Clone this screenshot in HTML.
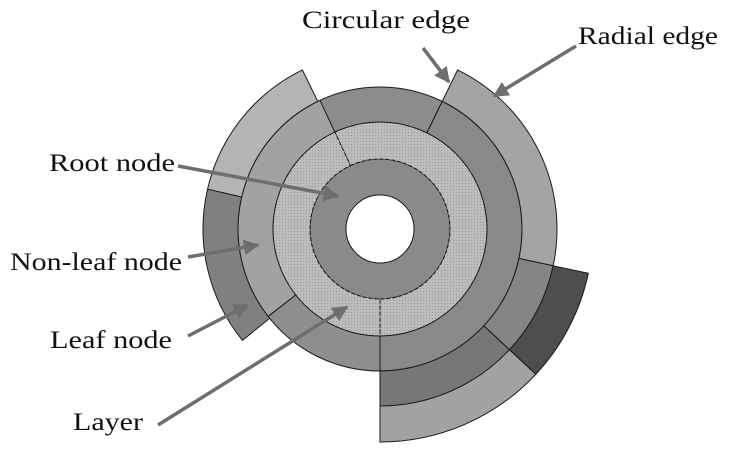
<!DOCTYPE html>
<html><head><meta charset="utf-8"><style>
html,body{margin:0;padding:0;background:#fff;width:729px;height:450px;overflow:hidden}
svg text{font-family:"Liberation Serif",serif;font-size:25px;fill:#111}
</style></head><body>
<svg id="chart" width="729" height="450" viewBox="0 0 729 450">
<defs>
<pattern id="dots" width="3" height="3" patternUnits="userSpaceOnUse">
<rect width="3" height="3" fill="#bcbcbc"/><rect width="1" height="1" fill="#9a9a9a"/>
</pattern>
<marker id="ah" viewBox="0 0 10 10" refX="9" refY="5" markerWidth="4.5" markerHeight="4.5" orient="auto" markerUnits="strokeWidth">
<path d="M0,0 L10,5 L0,10 z" fill="#6e6e6e"/></marker>
</defs>
<g id="rings"></g>
<circle cx="380" cy="229" r="34" fill="#fff" stroke="#222" stroke-width="1"/>
<g id="arrows"></g>
<text x="302" y="28" textLength="168" lengthAdjust="spacingAndGlyphs">Circular edge</text>
<text x="578" y="44" textLength="140" lengthAdjust="spacingAndGlyphs">Radial edge</text>
<text x="49" y="171" textLength="126" lengthAdjust="spacingAndGlyphs">Root node</text>
<text x="10" y="270" textLength="172" lengthAdjust="spacingAndGlyphs">Non-leaf node</text>
<text x="50" y="348" textLength="122" lengthAdjust="spacingAndGlyphs">Leaf node</text>
<text x="73" y="430" textLength="70" lengthAdjust="spacingAndGlyphs">Layer</text>
</svg>
<script>
const cx=380, cy=229;
const segNames=["root","layer2-a","layer2-b","l3-top","l3-right","l3-bottom-left","l3-left","l4-top-left","l4-left","l4-top-right","l4-right","l4-bottom","l5-right","l5-bottom"];
const segR0=[34,70,70,107,107,107,107,142,142,142,142,142,177,177];
const segR1=[70,107,107,142,142,142,142,177,177,177,177,177,213,213];
const segA0=[0,-25,180,-26,26,180,232,283,231,26,102,133,102,133];
const segA1=[360,180,335,26,180,232,335,334,283,102,133,180,133,180];
const segFill=["#8a8a8a","url(#dots)","url(#dots)","#8c8c8c","#898989","#8e8e8e","#a2a2a2","#b4b4b4","#808080","#a4a4a4","#858585","#777777","#4e4e4e","#a2a2a2"];
function pt(r,a){const t=a*Math.PI/180;return [cx+r*Math.sin(t),cy-r*Math.cos(t)];}
function arc(r0,r1,a0,a1){
  if(a1-a0>=360){return `M${cx-r1},${cy}A${r1},${r1} 0 1 1 ${cx+r1},${cy}A${r1},${r1} 0 1 1 ${cx-r1},${cy}Z M${cx-r0},${cy}A${r0},${r0} 0 1 0 ${cx+r0},${cy}A${r0},${r0} 0 1 0 ${cx-r0},${cy}Z`;}
  const l=(a1-a0)>180?1:0;
  const [x1,y1]=pt(r1,a0),[x2,y2]=pt(r1,a1),[x3,y3]=pt(r0,a1),[x4,y4]=pt(r0,a0);
  return `M${x1},${y1}A${r1},${r1} 0 ${l} 1 ${x2},${y2}L${x3},${y3}A${r0},${r0} 0 ${l} 0 ${x4},${y4}Z`;
}
const g=document.getElementById('rings');
for(let i=0;i<segNames.length;i++){
  const p=document.createElementNS('http://www.w3.org/2000/svg','path');
  p.setAttribute('d',arc(segR0[i],segR1[i],segA0[i],segA1[i]));
  p.setAttribute('fill',segFill[i]);
  p.setAttribute('fill-rule','evenodd');
  p.setAttribute('stroke','#1a1a1a');
  p.setAttribute('stroke-width','1');
  if(segFill[i].startsWith('url')) p.setAttribute('stroke-dasharray','4,2');
  
  
  g.appendChild(p);
}
const arrowNames=["circular-edge","radial-edge","root-node","non-leaf-node","leaf-node","layer"];
const arrowFrom=[[423,48],[576,46],[178,166],[188,257],[188,336],[158,425]];
const arrowTo=[[449,82],[494,96],[338,196],[258,245],[248,305],[347,307]];
const ag=document.getElementById('arrows');
for(let i=0;i<arrowNames.length;i++){
  const l=document.createElementNS('http://www.w3.org/2000/svg','line');
  l.setAttribute('x1',arrowFrom[i][0]);l.setAttribute('y1',arrowFrom[i][1]);
  l.setAttribute('x2',arrowTo[i][0]);l.setAttribute('y2',arrowTo[i][1]);
  l.setAttribute('stroke','#6e6e6e');l.setAttribute('stroke-width','3.5');
  l.setAttribute('marker-end','url(#ah)');
  
  
  ag.appendChild(l);
}
</script>
</body></html>
